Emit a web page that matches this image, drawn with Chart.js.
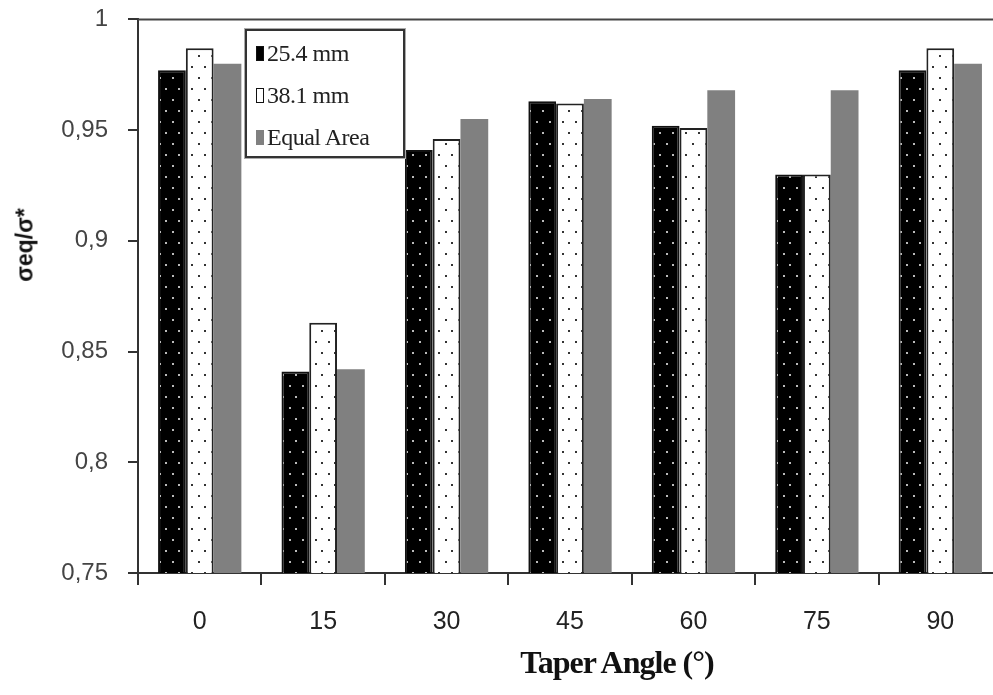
<!DOCTYPE html>
<html>
<head>
<meta charset="utf-8">
<script src="https://cdn.jsdelivr.net/npm/chart.js@4/dist/chart.umd.min.js"></script>
<style>
  html, body { margin: 0; padding: 0; background: #fff; overflow: hidden; width: 993px; height: 695px; }
  #wrap { position: relative; width: 1005px; height: 695px; }
  #c { position: absolute; left: 0; top: -15px; }
  #ytitle { position: absolute; left: 25px; top: 245px; transform: translate(-50%, -50%) rotate(-90deg);
            font: bold 23px "Liberation Sans", Arial, sans-serif; color: #111; white-space: nowrap; }
  #xtitle { position: absolute; left: 617px; top: 662px; transform: translate(-50%, -50%);
            font: bold 32px "Liberation Serif", "Times New Roman", serif; color: #111; white-space: nowrap; letter-spacing: -1px; }
  #legend { position: absolute; left: 245px; top: 29px; width: 160px; height: 129px; box-sizing: border-box;
            border: 2px solid #333; box-shadow: 0 0 0 1px #aaa; background: #fff; }
  .item { position: absolute; left: 9px; display: flex; align-items: center; height: 30px;
          font: 24px "Liberation Serif", "Times New Roman", serif; color: #222; white-space: nowrap; letter-spacing: -0.5px; }
  .sw { width: 8px; height: 15px; margin-right: 3px; box-sizing: border-box; border: 1.5px solid #111; }
</style>
</head>
<body>
<div id="wrap">
  <canvas id="c" width="1005" height="710"></canvas>
  <div id="ytitle">σeq/σ*</div>
  <div id="xtitle">Taper Angle (°)</div>
  <div id="legend"></div>
</div>
<script>
// Taper angles (degrees) and normalised equivalent stress for each specimen type
const taperAngles = ['0', '15', '30', '45', '60', '75', '90'];
const dia25_4   = [0.977, 0.841, 0.941, 0.963, 0.952, 0.930, 0.977];
const dia38_1   = [0.987, 0.863, 0.946, 0.962, 0.951, 0.930, 0.987];
const equalArea = [0.980, 0.842, 0.955, 0.964, 0.968, 0.968, 0.980];
const seriesNames = ['25.4 mm', '38.1 mm', 'Equal Area'];
const yTickValues = [0.75, 0.8, 0.85, 0.9, 0.95, 1];

const canvas = document.getElementById('c');
const ctx = canvas.getContext('2d');

// dotted fill used by the two diameter series
function dotPattern(bg, dot) {
  const t = document.createElement('canvas');
  t.width = 13; t.height = 22;
  const g = t.getContext('2d');
  g.fillStyle = bg; g.fillRect(0, 0, 13, 22);
  g.fillStyle = dot;
  g.fillRect(3, 4, 2, 2);
  g.fillRect(9, 15, 2, 2);
  return ctx.createPattern(t, 'repeat');
}

const fills = [dotPattern('#000', '#bbb'), dotPattern('#fff', '#333'), '#808080'];
const swatches = ['#000', '#fff', '#808080'];
const borders = ['#111', '#222', '#808080'];

// legend box
const legend = document.getElementById('legend');
seriesNames.forEach((name, i) => {
  const it = document.createElement('div');
  it.className = 'item';
  it.style.top = (7 + i * 42) + 'px';
  const sw = document.createElement('span');
  sw.className = 'sw';
  sw.style.background = swatches[i];
  if (i === 2) sw.style.border = 'none';
  it.appendChild(sw);
  it.appendChild(document.createTextNode(name));
  legend.appendChild(it);
});

// top edge of the plotting frame
const frameTop = {
  id: 'frameTop',
  afterDraw(chart) {
    const a = chart.chartArea, c = chart.ctx;
    c.save();
    c.strokeStyle = '#444';
    c.lineWidth = 2;
    c.beginPath();
    c.moveTo(a.left, a.top);
    c.lineTo(a.right, a.top);
    c.stroke();
    c.restore();
  }
};

const axisColor = '#333';

new Chart(ctx, {
  type: 'bar',
  data: {
    labels: taperAngles,
    datasets: [dia25_4, dia38_1, equalArea].map((vals, i) => ({
      label: seriesNames[i],
      data: vals,
      backgroundColor: fills[i],
      borderColor: borders[i],
      borderWidth: i === 2 ? 0 : 2,
      borderSkipped: 'bottom',
      categoryPercentage: 0.675,
      barPercentage: 1.0
    }))
  },
  options: {
    responsive: false,
    animation: false,
    events: [],
    layout: { padding: { top: 3, right: 3, left: 0, bottom: 0 } },
    plugins: { legend: { display: false }, tooltip: { enabled: false } },
    scales: {
      x: {
        offset: true,
        grid: { offset: true, drawOnChartArea: false, drawTicks: true, tickLength: 12, color: axisColor, lineWidth: 2 },
        border: { color: axisColor, width: 2 },
        ticks: { padding: 22, color: '#222', font: { family: '"Liberation Sans Narrow", "Liberation Sans", Arial', size: 25 } },
        afterFit(scale) { scale.height = 710 - 588; }
      },
      y: {
        min: 0.75,
        max: 1,
        afterBuildTicks(scale) { scale.ticks = yTickValues.map(v => ({ value: v })); },
        grid: { drawOnChartArea: false, drawTicks: true, tickLength: 10, color: axisColor, lineWidth: 2 },
        border: { color: axisColor, width: 2 },
        ticks: {
          padding: 20,
          color: '#444',
          font: { family: '"Liberation Sans", Arial', size: 24 },
          callback: v => String(+Number(v).toFixed(2)).replace('.', ',')
        },
        afterFit(scale) { scale.width = 138; }
      }
    }
  },
  plugins: [frameTop]
});
</script>
</body>
</html>
